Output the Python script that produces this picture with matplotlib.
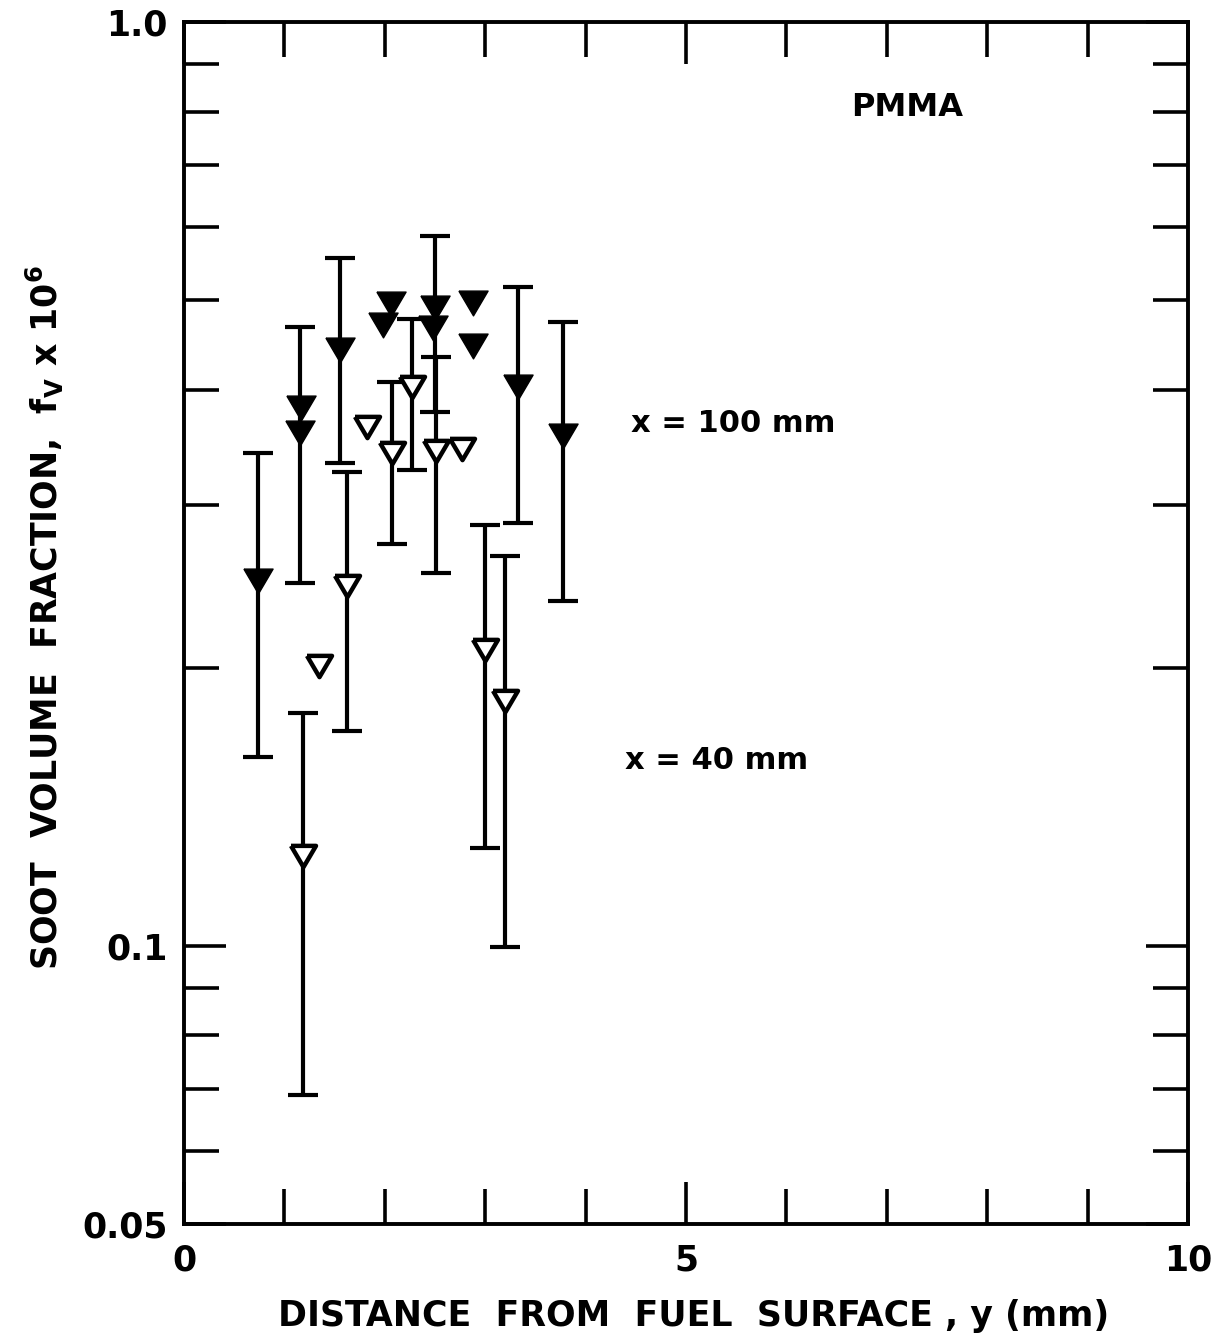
import numpy as np
import matplotlib
matplotlib.use("Agg")
import matplotlib.pyplot as plt
from matplotlib.ticker import FixedLocator, FixedFormatter, NullFormatter

nan = np.nan

# Soot volume fraction (f_v x 10^6) vs distance from the PMMA surface
# x = 100 mm station (filled symbols)
y100_dist = [0.74, 1.17, 1.16, 1.55, 2.06, 1.98, 2.50, 2.48, 2.88, 2.88, 3.33, 3.77]
y100_fv = [0.248, 0.382, 0.359, 0.442, 0.495, 0.470, 0.490, 0.466, 0.497, 0.446, 0.403, 0.356]
y100_lo = [0.160, nan, 0.247, 0.333, nan, nan, 0.378, nan, nan, nan, 0.287, 0.236]
y100_hi = [0.342, nan, 0.468, 0.555, nan, nan, 0.586, nan, nan, nan, 0.516, 0.474]

# x = 40 mm station (open symbols)
y40_dist = [1.19, 1.34, 1.62, 1.82, 2.07, 2.27, 2.51, 2.77, 3.00, 3.20]
y40_fv = [0.125, 0.201, 0.245, 0.364, 0.342, 0.403, 0.343, 0.345, 0.209, 0.184]
y40_lo = [0.069, nan, 0.171, nan, 0.272, 0.3275, 0.2534, nan, 0.1276, 0.0998]
y40_hi = [0.1785, nan, 0.326, nan, 0.4075, 0.477, 0.434, nan, 0.2855, 0.2644]

x_major = [0, 5, 10]
x_major_labels = ["0", "5", "10"]
x_minor = [1, 2, 3, 4, 6, 7, 8, 9]
y_major = [0.05, 0.1, 1.0]
y_major_labels = ["0.05", "0.1", "1.0"]
y_minor = [0.06, 0.07, 0.08, 0.09, 0.2, 0.3, 0.4, 0.5, 0.6, 0.7, 0.8, 0.9]

plt.rcParams["font.family"] = ["DejaVu Sans"]
plt.rcParams["font.weight"] = "bold"
plt.rcParams["mathtext.default"] = "bf"

W, H = 1214, 1341
fig = plt.figure(figsize=(W / 100, H / 100), dpi=100)
ax = fig.add_axes([184 / W, 1 - 1224 / H, (1188 - 184) / W, (1224 - 22) / H])
ax.set_yscale("log")
ax.set_xlim(0, 10)
ax.set_ylim(0.05, 1.0)

# flattened downward triangle marker
tri = [(-1.0, 0.85), (1.0, 0.85), (0.0, -0.85), (-1.0, 0.85)]


def draw_series(dist, fv, lo, hi, filled):
    dist = np.asarray(dist, float)
    fv = np.asarray(fv, float)
    lo = np.asarray(lo, float)
    hi = np.asarray(hi, float)
    m = ~np.isnan(lo)
    ax.errorbar(dist[m], fv[m], yerr=[fv[m] - lo[m], hi[m] - fv[m]],
                fmt="none", ecolor="black", elinewidth=3.0,
                capsize=10.5, capthick=3.0, zorder=2)
    if filled:
        ax.plot(dist, fv, linestyle="none", marker=tri, markersize=21,
                markerfacecolor="black", markeredgecolor="black",
                markeredgewidth=1.0, zorder=3)
    else:
        ax.plot(dist, fv, linestyle="none", marker=tri, markersize=18,
                markerfacecolor="white", markeredgecolor="black",
                markeredgewidth=3.2, zorder=3)


draw_series(y100_dist, y100_fv, y100_lo, y100_hi, filled=True)
draw_series(y40_dist, y40_fv, y40_lo, y40_hi, filled=False)

# axes frame and ticks
for sp in ax.spines.values():
    sp.set_linewidth(2.8)

ax.xaxis.set_major_locator(FixedLocator(x_major))
ax.xaxis.set_major_formatter(FixedFormatter(x_major_labels))
ax.xaxis.set_minor_locator(FixedLocator(x_minor))
ax.xaxis.set_minor_formatter(NullFormatter())
ax.yaxis.set_major_locator(FixedLocator(y_major))
ax.yaxis.set_major_formatter(FixedFormatter(y_major_labels))
ax.yaxis.set_minor_locator(FixedLocator(y_minor))
ax.yaxis.set_minor_formatter(NullFormatter())

ax.tick_params(which="both", direction="in", top=True, right=True,
               width=2.6, color="black")
ax.tick_params(which="major", length=30, labelsize=25)
ax.tick_params(which="minor", length=25)
ax.tick_params(axis="x", which="major", pad=14)
ax.tick_params(axis="y", which="major", pad=12)

ax.set_xlabel("DISTANCE  FROM  FUEL  SURFACE , y (mm)", fontsize=25,
              fontweight="bold")
ax.xaxis.set_label_coords(0.508, -0.062)
ax.set_ylabel(r"SOOT  VOLUME  FRACTION,  $f_V$ x 10$^6$", fontsize=25,
              fontweight="bold")
ax.yaxis.set_label_coords(-0.118, 0.505)

ax.text(0.72, 0.929, "PMMA", transform=ax.transAxes, fontsize=23,
        ha="center", va="center", fontweight="bold")
ax.text(0.547, 0.666, "x = 100 mm", transform=ax.transAxes, fontsize=22,
        ha="center", va="center", fontweight="bold")
ax.text(0.530, 0.386, "x = 40 mm", transform=ax.transAxes, fontsize=22,
        ha="center", va="center", fontweight="bold")

fig.savefig("out.png", dpi=100, facecolor="white")
